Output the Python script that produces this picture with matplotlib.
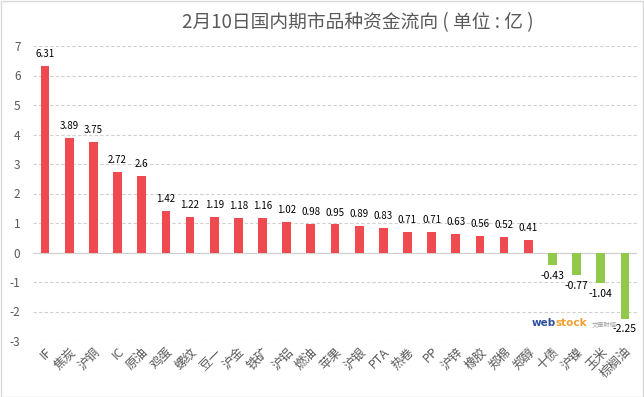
import matplotlib
matplotlib.use("Agg")
import matplotlib.pyplot as plt
from matplotlib.patches import Rectangle

plt.rcParams['font.family'] = ['Noto Sans CJK SC', 'DejaVu Sans']

categories = ["IF", "焦炭", "沪铜", "IC", "原油", "鸡蛋", "螺纹", "豆一", "沪金", "铁矿",
              "沪铝", "燃油", "苹果", "沪银", "PTA", "热卷", "PP", "沪锌", "橡胶", "郑棉",
              "郑醇", "十债", "沪镍", "玉米", "棕榈油"]
values = [6.31, 3.89, 3.75, 2.72, 2.6, 1.42, 1.22, 1.19, 1.18, 1.16,
          1.02, 0.98, 0.95, 0.89, 0.83, 0.71, 0.71, 0.63, 0.56, 0.52,
          0.41, -0.43, -0.77, -1.04, -2.25]
labels = ["6.31", "3.89", "3.75", "2.72", "2.6", "1.42", "1.22", "1.19", "1.18", "1.16",
          "1.02", "0.98", "0.95", "0.89", "0.83", "0.71", "0.71", "0.63", "0.56", "0.52",
          "0.41", "-0.43", "-0.77", "-1.04", "-2.25"]
yticks = [-3, -2, -1, 0, 1, 2, 3, 4, 5, 6, 7]
title = "2月10日国内期市品种资金流向 ( 单位 : 亿 )"

W, H = 644, 397
fig = plt.figure(figsize=(W / 100, H / 100), dpi=100)
ax = fig.add_axes([33 / W, 1 - 341 / H, (637 - 33) / W, (341 - 46) / H])

red = "#EE4A4F"
green = "#92C94A"
colors = [red if v >= 0 else green for v in values]
x = list(range(len(values)))
ax.bar(x, values, width=0.36, color=colors, zorder=3)

for xi, v, lab in zip(x, values, labels):
    if v >= 0:
        ax.annotate(lab, (xi, v), xytext=(0, 5), textcoords="offset points",
                    ha="center", va="bottom", fontsize=7, color="#000000")
    else:
        ax.annotate(lab, (xi, v), xytext=(0, -4), textcoords="offset points",
                    ha="center", va="top", fontsize=7.5, color="#000000")

ax.set_xlim(-0.5, 24.5)
ax.set_ylim(-3, 7)
ax.set_yticks(yticks)
ax.set_yticklabels([str(t) for t in yticks], fontsize=8.5, color="#595959")
ax.yaxis.grid(True, linestyle=(0, (3, 2)), color="#D0D0D0", linewidth=0.8, zorder=0)
ax.set_axisbelow(True)
ax.axhline(0, color="#D0D0D0", linewidth=0.8, zorder=1)
ax.tick_params(axis="y", length=0, pad=9)
ax.tick_params(axis="x", length=0, pad=3)
ax.set_xticks(x)
ax.set_xticklabels(categories, rotation=45, ha="right", va="top",
                   rotation_mode="anchor", fontsize=9, color="#595959")
for s in ax.spines.values():
    s.set_visible(False)

fig.text(358 / W, 1 - 23 / H, title, ha="center", va="center", fontsize=13.5, color="#595959")

# watermark
fig.text(532 / W, 1 - 323 / H, "web", ha="left", va="center", fontsize=7.5,
         color="#2E4F9A", fontweight="bold", family="DejaVu Sans")
fig.text(556 / W, 1 - 323 / H, "stock", ha="left", va="center", fontsize=7.5,
         color="#F0A030", fontweight="bold", family="DejaVu Sans")
fig.text(592 / W, 1 - 325 / H, "文華財經", ha="left", va="center", fontsize=4.5,
         color="#A0A0A0")

fig.patches.append(Rectangle((0.5 / W, 0.5 / H), 1 - 1.5 / W, 1 - 1.5 / H,
                             transform=fig.transFigure, fill=False,
                             edgecolor="#D9D9D9", linewidth=1))

fig.savefig("out.png", dpi=100, facecolor="white")
